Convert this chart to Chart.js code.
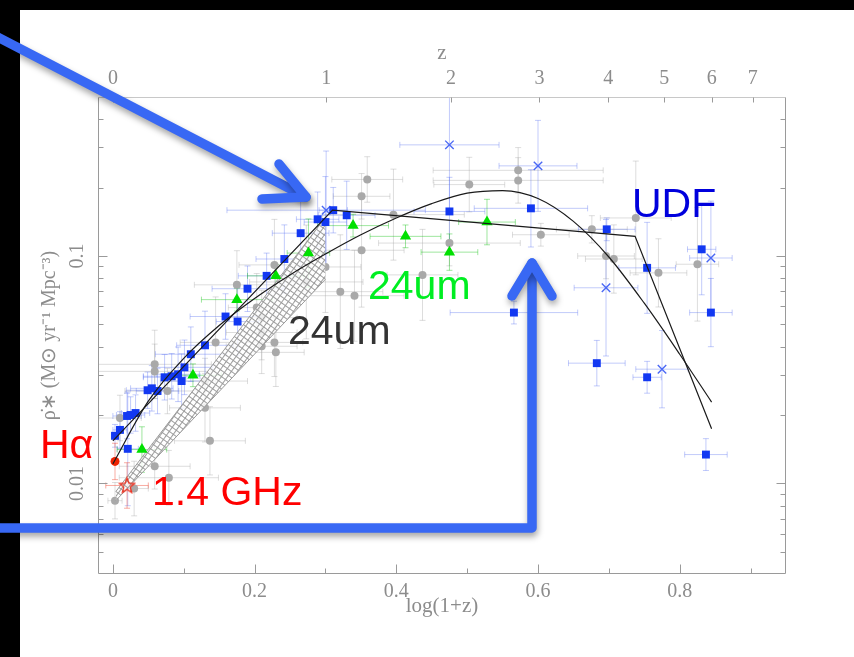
<!DOCTYPE html>
<html><head><meta charset="utf-8">
<script src="https://cdn.jsdelivr.net/npm/chart.js@4.4.1/dist/chart.umd.min.js"></script>
<style>html,body{margin:0;padding:0;background:#fff;overflow:hidden}</style>
</head><body>
<canvas id="c" width="854" height="657"></canvas>
<script>
// ---- data ----
const grayX = [0.003,0.030,0.059,0.079,0.130,0.137,0.010,0.077,0.059,0.059,0.130,0.145,0.175,0.203,0.210,0.210,0.210,0.228,0.230,0.228,0.359,0.351,0.396,0.351,0.300,0.273,0.321,0.341,0.437,0.475,0.503,0.572,0.572,0.604,0.676,0.738,0.696,0.707,0.770,0.825];
const grayY = [0.0084,0.0095,0.0119,0.0106,0.0215,0.0154,0.0194,0.0255,0.0334,0.0311,0.0282,0.0417,0.0747,0.0593,0.0536,0.0461,0.0401,0.0417,0.0377,0.0914,0.217,0.183,0.152,0.106,0.0895,0.0769,0.0697,0.0669,0.0826,0.114,0.206,0.238,0.215,0.124,0.131,0.147,0.100,0.097,0.0843,0.092];
const grayXErr = [0.01,0.02,0.05,0.07,0.05,0.05,0.03,0.06,0.08,0.08,0.06,0.05,0.06,0.04,0.05,0.05,0.05,0.04,0.04,0.05,0.05,0.04,0.10,0.06,0.05,0.08,0.06,0.07,0.05,0.10,0.05,0.12,0.12,0.04,0.05,0.05,0.04,0.04,0.04,0.03];
const grayYErr = [0.08,0.12,0.10,0.12,0.15,0.15,0.10,0.10,0.15,0.12,0.10,0.20,0.15,0.15,0.12,0.12,0.12,0.15,0.15,0.20,0.10,0.10,0.20,0.25,0.20,0.25,0.25,0.20,0.20,0.10,0.12,0.10,0.10,0.05,0.06,0.25,0.10,0.15,0.15,0.25];

const blueX = [0.003,0.010,0.020,0.025,0.032,0.021,0.049,0.055,0.063,0.073,0.083,0.092,0.097,0.101,0.110,0.130,0.159,0.176,0.190,0.217,0.242,0.265,0.289,0.300,0.311,0.330,0.475,0.590,0.697,0.754,0.831,0.844,0.566,0.683,0.754,0.837];
const blueY = [0.0162,0.0172,0.0198,0.0200,0.0204,0.0142,0.0257,0.0262,0.0255,0.0293,0.0296,0.0302,0.0282,0.0324,0.0370,0.0405,0.0542,0.0515,0.0718,0.0818,0.097,0.126,0.145,0.141,0.159,0.151,0.157,0.162,0.131,0.0887,0.107,0.0564,0.0564,0.0338,0.0293,0.0134];
const blueXErr = [0.005,0.01,0.02,0.02,0.02,0.015,0.03,0.03,0.03,0.03,0.04,0.03,0.03,0.04,0.05,0.04,0.05,0.03,0.05,0.04,0.04,0.04,0.03,0.03,0.02,0.04,0.05,0.08,0.04,0.04,0.02,0.03,0.09,0.04,0.02,0.03];
const blueYErr = [0.05,0.08,0.10,0.08,0.08,0.25,0.08,0.10,0.10,0.10,0.10,0.12,0.12,0.12,0.12,0.15,0.10,0.15,0.10,0.10,0.15,0.15,0.12,0.20,0.10,0.15,0.15,0.17,0.05,0.20,0.20,0.15,0.05,0.10,0.07,0.07];

const crossX = [0.301,0.475,0.600,0.696,0.775,0.844];
const crossY = [0.159,0.308,0.249,0.0725,0.0318,0.098];
const crossXErr = [0.14,0.07,0.055,0.045,0.037,0.03];
const crossYErr = [0.26,0.30,0.20,0.30,0.17,0.25];

const greenX = [0.041,0.113,0.175,0.230,0.276,0.339,0.413,0.475,0.528];
const greenY = [0.0141,0.0299,0.0643,0.0818,0.103,0.136,0.122,0.104,0.141];
const greenXErr = [0.035,0.04,0.05,0.04,0.03,0.05,0.05,0.04,0.04];
const greenYErr = [0.10,0.05,0.05,0.05,0.15,0.05,0.05,0.08,0.10];

const haX = [0.003], haY = [0.0125], haXErr = [0], haYErr = [0.08];
const radioX = [0.020], radioY = [0.0098], radioXErr = [0.03], radioYErr = [0.10];

const fitSmoothX = [0,0.05,0.1,0.15,0.2,0.25,0.3,0.35,0.4,0.45,0.5,0.55,0.6,0.65,0.7,0.75,0.8,0.845];
const fitSmoothY = [0.0122,0.0230,0.0355,0.0495,0.0651,0.0826,0.102,0.124,0.147,0.170,0.189,0.194,0.179,0.142,0.099,0.062,0.037,0.0228];
const fitBrokenX = [0,0.31,0.737,0.845];
const fitBrokenY = [0.0154,0.159,0.122,0.0174];
const bandX = [0.004,0.30];
const bandLow = [0.0084,0.079];
const bandHigh = [0.0092,0.148];

const xTicks = [0,0.2,0.4,0.6,0.8];
const xMinorTicks = [0.1,0.3,0.5,0.7,0.9];
const zTickLabels = [0,1,2,3,4,5,6,7];
const yTicks = [0.01,0.1];
const yTickLabels = ['0.01','0.1'];

// ---- helpers ----
const pts = (xs, ys) => xs.map((x,i)=>({x:x, y:ys[i]}));
const canvas = document.getElementById('c');
const ctx0 = canvas.getContext('2d');

// hatch pattern for the band
const pc = document.createElement('canvas'); pc.width = 5; pc.height = 5;
const pcx = pc.getContext('2d');
pcx.fillStyle = 'rgba(255,255,255,0.8)'; pcx.fillRect(0,0,5,5);
pcx.strokeStyle = '#9c9c9c'; pcx.lineWidth = 1;
pcx.beginPath(); pcx.moveTo(0,0.5); pcx.lineTo(5,0.5); pcx.moveTo(0.5,0); pcx.lineTo(0.5,5); pcx.stroke();
const hatch = ctx0.createPattern(pc,'repeat');
try { hatch.setTransform(new DOMMatrix().rotate(-54)); } catch(e) {}

// open red star marker
const star = document.createElement('canvas'); star.width = 18; star.height = 18;
(function(){
  const s = star.getContext('2d');
  s.strokeStyle = '#ee3322'; s.lineWidth = 1.3; s.beginPath();
  for (let k=0;k<10;k++){
    const r = k%2===0 ? 8 : 3.4; const a = -Math.PI/2 + k*Math.PI/5;
    const px = 9 + r*Math.cos(a), py = 9.5 + r*Math.sin(a);
    if(k===0) s.moveTo(px,py); else s.lineTo(px,py);
  }
  s.closePath(); s.stroke();
})();

const GRAYERR = 'rgba(165,165,165,0.38)';
const BLUEERR = 'rgba(80,105,240,0.35)';
const GREENERR = 'rgba(0,190,0,0.38)';
const REDERR = 'rgba(240,70,50,0.45)';

const errorBars = {
  id:'errorBars',
  beforeDatasetsDraw(chart){
    const {ctx, chartArea:a} = chart; const x = chart.scales.x, y = chart.scales.y;
    ctx.save();
    ctx.beginPath(); ctx.rect(a.left,a.top,a.right-a.left,a.bottom-a.top); ctx.clip();
    ctx.lineWidth = 1;
    chart.data.datasets.forEach(ds=>{
      if(!ds.errX) return;
      ctx.strokeStyle = ds.errColor;
      ds.data.forEach((p,i)=>{
        const px = x.getPixelForValue(p.x), py = y.getPixelForValue(p.y);
        const ex = ds.errX[i], ey = ds.errY[i];
        ctx.beginPath();
        if (ex>0){
          const x0 = x.getPixelForValue(p.x-ex), x1 = x.getPixelForValue(p.x+ex);
          ctx.moveTo(x0,py); ctx.lineTo(x1,py);
          ctx.moveTo(x0,py-3); ctx.lineTo(x0,py+3); ctx.moveTo(x1,py-3); ctx.lineTo(x1,py+3);
        }
        if (ey>0){
          const y0 = y.getPixelForValue(p.y*Math.pow(10,-ey)), y1 = y.getPixelForValue(p.y*Math.pow(10,ey));
          ctx.moveTo(px,y0); ctx.lineTo(px,y1);
          ctx.moveTo(px-3,y0); ctx.lineTo(px+3,y0); ctx.moveTo(px-3,y1); ctx.lineTo(px+3,y1);
        }
        ctx.stroke();
      });
    });
    ctx.restore();
  }
};

const background = {
  id:'background',
  beforeDraw(chart){
    const ctx = chart.ctx;
    ctx.save();
    ctx.fillStyle = '#fff'; ctx.fillRect(0,0,chart.width,chart.height);
    ctx.fillStyle = '#000'; ctx.fillRect(0,0,chart.width,10); ctx.fillRect(0,0,20,chart.height);
    ctx.restore();
  }
};

const frameAndNotes = {
  id:'frameAndNotes',
  afterDraw(chart){
    const {ctx, chartArea:a} = chart; const x = chart.scales.x, y = chart.scales.y;
    const L = Math.round(a.left)+0.5, R = Math.round(a.right)-0.5, T = Math.round(a.top)+0.5, B = Math.round(a.bottom)-0.5;
    ctx.save();
    ctx.lineWidth = 1;
    // frame
    ctx.strokeStyle = '#c8c8c8'; ctx.beginPath(); ctx.moveTo(L,T); ctx.lineTo(R,T); ctx.stroke();
    ctx.strokeStyle = '#9a9a9a'; ctx.beginPath(); ctx.moveTo(L,T); ctx.lineTo(L,B); ctx.lineTo(R,B); ctx.lineTo(R,T); ctx.stroke();
    // bottom ticks
    ctx.beginPath();
    xTicks.forEach(v=>{const p=Math.round(x.getPixelForValue(v))+0.5; ctx.moveTo(p,B); ctx.lineTo(p,B-9);});
    xMinorTicks.forEach(v=>{const p=Math.round(x.getPixelForValue(v))+0.5; ctx.moveTo(p,B); ctx.lineTo(p,B-5);});
    // top z ticks
    zTickLabels.forEach(z=>{const p=Math.round(x.getPixelForValue(Math.log10(1+z)))+0.5; ctx.moveTo(p,T); ctx.lineTo(p,T+5);});
    // y ticks left & right
    const minorY = [0.004,0.005,0.006,0.007,0.008,0.009,0.02,0.03,0.04,0.05,0.06,0.07,0.08,0.09,0.2,0.3,0.4,0.5];
    yTicks.forEach(v=>{const p=Math.round(y.getPixelForValue(v))+0.5; ctx.moveTo(L,p); ctx.lineTo(L+9,p); ctx.moveTo(R,p); ctx.lineTo(R-9,p);});
    minorY.forEach(v=>{const p=Math.round(y.getPixelForValue(v))+0.5; if(p<T+1||p>B-1) return; ctx.moveTo(L,p); ctx.lineTo(L+5,p); ctx.moveTo(R,p); ctx.lineTo(R-5,p);});
    ctx.stroke();
    // y tick labels (rotated)
    ctx.fillStyle = '#8c8c8c'; ctx.font = '20px "Liberation Serif", serif';
    ctx.textAlign = 'center'; ctx.textBaseline = 'middle';
    yTicks.forEach((v,i)=>{
      const p = y.getPixelForValue(v);
      ctx.save(); ctx.translate(78,p); ctx.rotate(-Math.PI/2); ctx.fillText(yTickLabels[i],0,0); ctx.restore();
    });
    // arrows
    ctx.strokeStyle = '#3868f4'; ctx.lineWidth = 9.5; ctx.lineCap = 'round'; ctx.lineJoin = 'round';
    ctx.shadowColor = 'rgba(0,0,0,0.35)'; ctx.shadowBlur = 6; ctx.shadowOffsetX = 1; ctx.shadowOffsetY = 4;
    ctx.beginPath(); ctx.moveTo(-12,32); ctx.lineTo(306,197); ctx.stroke();
    ctx.beginPath(); ctx.moveTo(279,164); ctx.lineTo(306,197); ctx.lineTo(262,199); ctx.stroke();
    ctx.beginPath(); ctx.moveTo(-12,528); ctx.lineTo(532,528); ctx.lineTo(532,263); ctx.stroke();
    ctx.beginPath(); ctx.moveTo(512,296); ctx.lineTo(532,263); ctx.lineTo(552,296); ctx.stroke();
    ctx.shadowColor = 'transparent';
    // text labels
    ctx.textAlign = 'left'; ctx.textBaseline = 'alphabetic';
    ctx.font = '41px "Liberation Sans", Arial, sans-serif';
    ctx.fillStyle = '#ff0000'; ctx.fillText('H\u03b1', 40, 458);
    ctx.fillText('1.4 GHz', 152, 505);
    ctx.fillStyle = '#00ee22'; ctx.fillText('24um', 368, 299);
    ctx.fillStyle = '#333333'; ctx.fillText('24um', 288, 344);
    ctx.fillStyle = '#0000dd'; ctx.fillText('UDF', 632, 217);
    ctx.restore();
  }
};

const axisFont = {family:'"Liberation Serif", serif', size:20};

new Chart(canvas, {
  type:'scatter',
  data:{ datasets:[
    {label:'gray', data:pts(grayX,grayY), errX:grayXErr, errY:grayYErr, errColor:GRAYERR,
     pointStyle:'circle', pointRadius:4, backgroundColor:'#a9a9a9', borderColor:'#a9a9a9', borderWidth:0, order:9},
    {label:'band low', data:pts(bandX,bandLow), showLine:true, pointRadius:0, borderColor:'#9a9a9a', borderWidth:1, fill:false, order:8},
    {label:'band high', data:pts(bandX,bandHigh), showLine:true, pointRadius:0, borderColor:'#9a9a9a', borderWidth:1, fill:'-1', backgroundColor:hatch, order:8},
    {label:'cross', data:pts(crossX,crossY), errX:crossXErr, errY:crossYErr, errColor:BLUEERR,
     pointStyle:'crossRot', pointRadius:6, borderColor:'#4a68f5', borderWidth:1.4, order:6},
    {label:'blue', data:pts(blueX,blueY), errX:blueXErr, errY:blueYErr, errColor:BLUEERR,
     pointStyle:'rect', pointRadius:5.6, backgroundColor:'#1238f2', borderColor:'#1238f2', borderWidth:0, order:5},
    {label:'green', data:pts(greenX,greenY), errX:greenXErr, errY:greenYErr, errColor:GREENERR,
     pointStyle:'triangle', pointRadius:6.5, backgroundColor:'#00e000', borderColor:'#00e000', borderWidth:0, order:4},
    {label:'Halpha', data:pts(haX,haY), errX:haXErr, errY:haYErr, errColor:REDERR,
     pointStyle:'circle', pointRadius:4.5, backgroundColor:'#ee2200', borderColor:'#ee2200', borderWidth:0, order:3},
    {label:'radio', data:pts(radioX,radioY), errX:radioXErr, errY:radioYErr, errColor:REDERR,
     pointStyle:star, pointRadius:8, order:3},
    {label:'smooth fit', data:pts(fitSmoothX,fitSmoothY), showLine:true, pointRadius:0, borderColor:'#1a1a1a', borderWidth:1.2, cubicInterpolationMode:'monotone', order:1},
    {label:'broken fit', data:pts(fitBrokenX,fitBrokenY), showLine:true, pointRadius:0, borderColor:'#1a1a1a', borderWidth:1.2, order:1}
  ]},
  options:{
    responsive:false, animation:false, devicePixelRatio:1,
    layout:{padding:{left:0,right:68,top:0,bottom:0}},
    plugins:{legend:{display:false}, tooltip:{enabled:false}},
    scales:{
      x:{type:'linear', position:'bottom', min:-0.021, max:0.95,
         grid:{display:false, drawTicks:false}, border:{display:false},
         ticks:{color:'#8c8c8c', font:axisFont, padding:6, maxRotation:0, callback:(v)=> v===0 ? '0' : String(v)},
         afterBuildTicks:(s)=>{ s.ticks = xTicks.map(v=>({value:v})); },
         afterFit:(s)=>{ s.height = 83; },
         title:{display:true, text:'log(1+z)', color:'#8c8c8c', font:{family:'"Liberation Serif", serif', size:21}, padding:{top:0,bottom:38}}},
      x2:{type:'linear', position:'top', min:-0.021, max:0.95,
         grid:{display:false, drawTicks:false}, border:{display:false},
         ticks:{color:'#8c8c8c', font:axisFont, padding:6, maxRotation:0, callback:(v,i)=> String(zTickLabels[i])},
         afterBuildTicks:(s)=>{ s.ticks = zTickLabels.map(z=>({value:Math.log10(1+z)})); },
         afterFit:(s)=>{ s.height = 97; },
         title:{display:true, text:'z', color:'#8c8c8c', font:{family:'"Liberation Serif", serif', size:21}, padding:{top:41,bottom:0}}},
      y:{type:'logarithmic', position:'left', min:0.004, max:0.5,
         grid:{display:false, drawTicks:false}, border:{display:false},
         ticks:{display:false},
         afterBuildTicks:(s)=>{ s.ticks = yTicks.map(v=>({value:v})); },
         afterFit:(s)=>{ s.width = 98; },
         title:{display:true, text:'\u03c1\u0307\u2217 (M\u2299 yr\u207b\u00b9 Mpc\u207b\u00b3)', color:'#8c8c8c', font:{family:'"Liberation Serif", serif', size:20}, padding:{top:38,bottom:0}}}
    }
  },
  plugins:[background, errorBars, frameAndNotes]
});
</script>
</body></html>
